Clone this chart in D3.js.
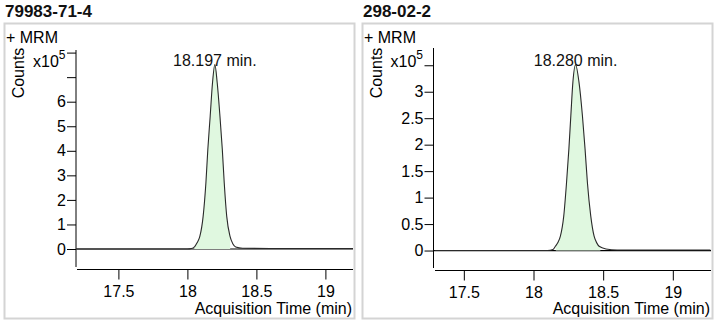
<!DOCTYPE html>
<html><head><meta charset="utf-8">
<script src="https://cdn.jsdelivr.net/npm/d3@7"></script>
<style>
html,body{margin:0;padding:0;background:#fff;}
svg{display:block;font-family:"Liberation Sans",Arial,sans-serif;}
</style></head>
<body>
<svg id="c" width="721" height="323"></svg>
<script>
// ---- data ----
const titles = ["79983-71-4", "298-02-2"];
const peakLabels = ["18.197 min.", "18.280 min."];
const xTickValues = [17.5, 18, 18.5, 19];
const xTickLabels = ["17.5", "18", "18.5", "19"];

// panel 1 chromatogram (x10^5 counts)
const times1 = [17.20, 17.60, 18.00, 18.030, 18.053, 18.070, 18.090, 18.114, 18.134, 18.148, 18.165, 18.182, 18.199, 18.216, 18.236, 18.253, 18.267, 18.285, 18.309, 18.330, 18.350, 18.400, 18.600, 18.800, 19.000, 19.200];
const values1 = [0, 0, 0, 0.02, 0.10, 0.25, 0.51, 1.33, 2.69, 4.05, 5.40, 6.77, 7.51, 6.77, 5.40, 4.05, 2.69, 1.33, 0.51, 0.20, 0.08, 0.03, 0.02, 0.02, 0.02, 0.02];
const yTicks1 = [0, 1, 2, 3, 4, 5, 6, 7, 8];
const yTickLabels1 = ["0", "1", "2", "3", "4", "5", "6", "", ""];
const integ1 = [18.05, 18.31];

// panel 2 chromatogram (x10^5 counts)
const times2 = [17.29, 17.70, 18.10, 18.140, 18.157, 18.175, 18.193, 18.217, 18.237, 18.254, 18.268, 18.283, 18.302, 18.326, 18.351, 18.370, 18.387, 18.411, 18.435, 18.455, 18.471, 18.520, 18.600, 18.800, 19.000, 19.270];
const values2 = [0, 0, 0, 0.02, 0.08, 0.15, 0.27, 0.65, 1.28, 1.92, 2.55, 3.19, 3.51, 3.19, 2.55, 1.92, 1.28, 0.65, 0.27, 0.14, 0.08, 0.03, 0.01, 0.01, 0.01, 0.01];
const yTicks2 = [0, 0.5, 1, 1.5, 2, 2.5, 3, 3.5];
const yTickLabels2 = ["0", "0.5", "1", "1.5", "2", "2.5", "3", ""];
const integ2 = [18.16, 18.48];

const panels = [
  {title:titles[0], label:peakLabels[0], times:times1, values:values1, yTicks:yTicks1, yLabels:yTickLabels1, integ:integ1,
   xDom:[17.2, 19.2], xRange:[77, 353], yDom:[-0.733, 8.106], yRange:[267, 50], yAxisX:76, xAxisY:269.5,
   box:[4.5, 23.5, 350, 295]},
  {title:titles[1], label:peakLabels[1], times:times2, values:values2, yTicks:yTicks2, yLabels:yTickLabels2, integ:integ2,
   xDom:[17.293, 19.274], xRange:[435, 711], yDom:[-0.33, 3.826], yRange:[268, 48], yAxisX:433.5, xAxisY:270.5,
   box:[362.5, 23.5, 350, 295]}
];

const svg = d3.select("#c");
const FS = 16;

panels.forEach((p, i) => {
  const g = svg.append("g");
  const bx = p.box[0];
  // title
  g.append("text").attr("x", bx + 0.5).attr("y", 17).attr("font-weight", "bold").attr("font-size", 17).attr("fill", "#111").text(p.title);
  // border
  g.append("rect").attr("x", bx).attr("y", p.box[1]).attr("width", p.box[2]).attr("height", p.box[3])
    .attr("fill", "none").attr("stroke", "#d4d4d4").attr("stroke-width", 2);
  // + MRM
  g.append("text").attr("x", bx + 1.5).attr("y", 43).attr("font-size", FS).attr("fill", "#000").text("+ MRM");
  // Counts
  g.append("text").attr("transform", `translate(${bx + 19},73) rotate(-90)`).attr("text-anchor", "middle")
    .attr("font-size", FS).attr("fill", "#000").text("Counts");
  // x10^5
  const xt = g.append("text").attr("x", p.yAxisX - 43).attr("y", 67).attr("font-size", FS).attr("fill", "#000");
  xt.append("tspan").text("x10");
  xt.append("tspan").attr("dy", -8).attr("font-size", 12).text("5");

  const x = d3.scaleLinear().domain(p.xDom).range(p.xRange);
  const y = d3.scaleLinear().domain(p.yDom).range(p.yRange);

  // y axis
  const ya = g.append("g").attr("transform", `translate(${p.yAxisX},0)`)
    .call(d3.axisLeft(y).tickValues(p.yTicks).tickSize(9).tickPadding(1).tickFormat((d, k) => p.yLabels[k]));
  ya.select(".domain").remove();
  ya.append("line").attr("x1", 0).attr("x2", 0).attr("y1", p.yRange[1]).attr("y2", p.yRange[0]).attr("stroke", "#000");
  ya.selectAll("text").attr("font-size", FS).attr("font-family", "Liberation Sans, Arial, sans-serif").attr("fill", "#000");
  ya.selectAll(".tick line").attr("stroke", "#000");

  // x axis
  const xa = g.append("g").attr("transform", `translate(0,${p.xAxisY})`)
    .call(d3.axisBottom(x).tickValues(xTickValues).tickSize(10).tickPadding(6).tickFormat((d, k) => xTickLabels[k]));
  xa.select(".domain").remove();
  xa.append("line").attr("x1", p.xRange[0]).attr("x2", p.xRange[1]).attr("y1", 0).attr("y2", 0).attr("stroke", "#000");
  xa.selectAll("text").attr("font-size", FS).attr("font-family", "Liberation Sans, Arial, sans-serif").attr("fill", "#000");
  xa.selectAll(".tick line").attr("stroke", "#000");

  g.append("text").attr("x", p.xRange[1] - 1).attr("y", 314).attr("text-anchor", "end").attr("font-size", FS)
    .attr("fill", "#000").text("Acquisition Time (min)");

  // data
  const data = p.times.map((t, k) => ({t, v: p.values[k]}));
  const curve = d3.curveMonotoneX;

  // zero line
  g.append("line").attr("x1", p.yAxisX).attr("x2", p.xRange[1]).attr("y1", y(0)).attr("y2", y(0)).attr("stroke", "#000").attr("stroke-width", 1.2);

  // fill in integration region
  const inside = data.filter(d => d.t >= p.integ[0] && d.t <= p.integ[1]);
  const interp = (tt) => {
    for (let k = 0; k < data.length - 1; k++) {
      if (data[k].t <= tt && data[k + 1].t >= tt) {
        const f = (tt - data[k].t) / (data[k + 1].t - data[k].t);
        return data[k].v + f * (data[k + 1].v - data[k].v);
      }
    }
    return 0;
  };
  const fillData = [{t: p.integ[0], v: interp(p.integ[0])}, ...inside, {t: p.integ[1], v: interp(p.integ[1])}];
  g.append("path").datum(fillData)
    .attr("d", d3.area().x(d => x(d.t)).y0(y(0)).y1(d => y(d.v)).curve(curve))
    .attr("fill", "#e0f8e0").attr("stroke", "none");

  // trace
  g.append("path").datum(data)
    .attr("d", d3.line().x(d => x(d.t)).y(d => y(d.v)).curve(curve))
    .attr("fill", "none").attr("stroke", "#2a2a2a").attr("stroke-width", 1.1);

  // peak label
  const apex = data.reduce((a, b) => b.v > a.v ? b : a);
  g.append("text").attr("x", x(apex.t)).attr("y", 66).attr("text-anchor", "middle").attr("font-size", FS)
    .attr("fill", "#111").text(p.label);
});
</script>
</body></html>
